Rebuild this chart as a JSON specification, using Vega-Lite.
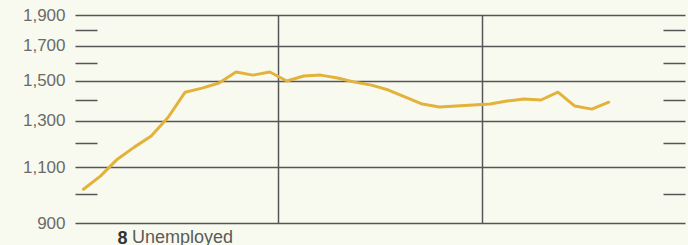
{
  "$schema": "https://vega.github.io/schema/vega-lite/v6.json",
  "width": 610,
  "height": 208,
  "autosize": "none",
  "padding": {"left": 75, "top": 15, "right": 3, "bottom": 22},
  "background": "#f9faef",
  "title": {"text": "Unemployed", "orient": "bottom", "anchor": "start", "frame": "group", "dx": 57, "offset": -4, "baseline": "alphabetic", "font": "Liberation Sans", "fontSize": 18, "limit": 0, "fontWeight": "normal", "color": "#5a5a5a"},
  "config": {"view": {"stroke": null}, "axis": {"labelFont": "Liberation Sans", "titleFont": "Liberation Sans"}},
  "data": {"values": [
    {"m": 0.5, "v": 1016}, {"m": 1.5, "v": 1065}, {"m": 2.5, "v": 1132}, {"m": 3.5, "v": 1182},
    {"m": 4.5, "v": 1230}, {"m": 5.5, "v": 1316}, {"m": 6.5, "v": 1440}, {"m": 7.5, "v": 1461},
    {"m": 8.5, "v": 1488}, {"m": 9.5, "v": 1548}, {"m": 10.5, "v": 1531}, {"m": 11.5, "v": 1548},
    {"m": 12.5, "v": 1499}, {"m": 13.5, "v": 1526}, {"m": 14.5, "v": 1531}, {"m": 15.5, "v": 1515},
    {"m": 16.5, "v": 1493}, {"m": 17.5, "v": 1477}, {"m": 18.5, "v": 1451}, {"m": 19.5, "v": 1415},
    {"m": 20.5, "v": 1380}, {"m": 21.5, "v": 1365}, {"m": 22.5, "v": 1370}, {"m": 23.5, "v": 1375},
    {"m": 24.5, "v": 1380}, {"m": 25.5, "v": 1395}, {"m": 26.5, "v": 1405}, {"m": 27.5, "v": 1400},
    {"m": 28.5, "v": 1440}, {"m": 29.5, "v": 1370}, {"m": 30.5, "v": 1355}, {"m": 31.5, "v": 1389}
  ]},
  "encoding": {
    "x": {"field": "m", "type": "quantitative", "scale": {"domain": [0, 36], "nice": false, "zero": false},
      "axis": {"values": [12, 24], "grid": true, "gridColor": "#555555", "gridWidth": 1.5, "labels": false, "ticks": false, "domain": false,
        "title": "8", "titleFontWeight": "bold", "titleFontSize": 18, "titleColor": "#333333", "titleAnchor": "start", "titleAlign": "left", "titleBaseline": "alphabetic", "titleX": 42, "titleY": 20}}
  },
  "layer": [
    {
      "mark": {"type": "line", "color": "#e2b23a", "strokeWidth": 3, "interpolate": "linear", "strokeJoin": "round", "strokeCap": "round"},
      "encoding": {
        "y": {"field": "v", "type": "quantitative", "scale": {"type": "log", "domain": [900, 1900], "nice": false, "zero": false},
          "axis": {"orient": "left", "values": [900, 1000, 1100, 1200, 1300, 1400, 1500, 1600, 1700, 1800, 1900], "format": ",",
            "labelExpr": "datum.value % 200 == 100 ? datum.label : ''",
            "grid": true, "gridColor": "#555555", "gridWidth": 1.5,
            "gridOpacity": {"condition": {"test": "datum.value % 200 == 100", "value": 1}, "value": 0},
            "ticks": true, "tickSize": -22, "tickColor": "#555555", "tickWidth": 1.5,
            "tickOpacity": {"condition": {"test": "datum.value % 200 == 100", "value": 0}, "value": 1},
            "labelPadding": 32, "labelFontSize": 17, "labelColor": "#6a6a6a", "domain": false, "title": null}}
      }
    },
    {
      "mark": {"type": "line", "opacity": 0},
      "encoding": {
        "y": {"field": "v", "type": "quantitative",
          "axis": {"orient": "right", "values": [1000, 1200, 1400, 1600, 1800], "labels": false, "grid": false, "domain": false,
            "ticks": true, "tickSize": -22, "tickColor": "#555555", "tickWidth": 1.5, "title": null}}
      }
    }
  ],
  "resolve": {"axis": {"y": "independent"}}
}
